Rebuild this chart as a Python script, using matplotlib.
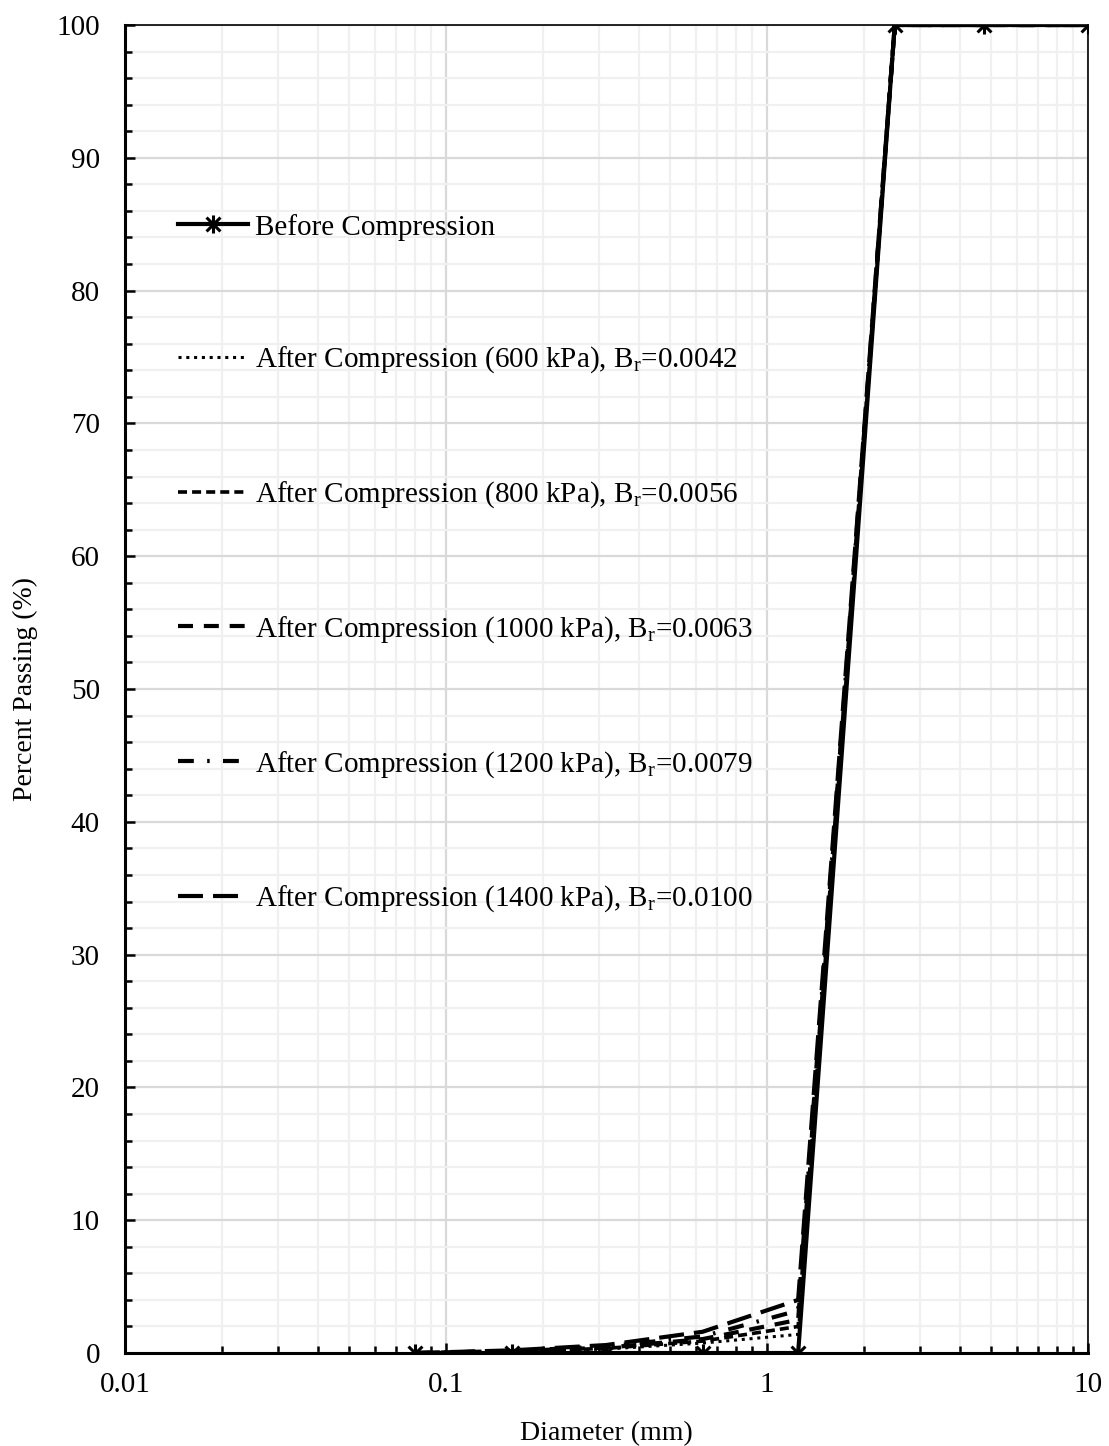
import matplotlib
matplotlib.use("Agg")
import matplotlib.pyplot as plt
from matplotlib.path import Path
from matplotlib.ticker import LogLocator, MultipleLocator, FixedLocator

plt.rcParams["font.family"] = ["Liberation Serif", "DejaVu Serif"]
plt.rcParams["mathtext.fontset"] = "custom"
plt.rcParams["mathtext.rm"] = "Liberation Serif"

# sieve sizes (mm) and percent passing
diameter = [0.08, 0.16, 0.315, 0.63, 1.25, 2.5, 4.75, 10]
before = [0, 0, 0, 0, 0, 100, 100, 100]
after_600 = [0, 0.1, 0.3, 0.75, 1.4, 100, 100, 100]
after_800 = [0, 0.1, 0.35, 0.9, 2.0, 100, 100, 100]
after_1000 = [0, 0.15, 0.4, 1.05, 2.5, 100, 100, 100]
after_1200 = [0, 0.15, 0.5, 1.25, 3.2, 100, 100, 100]
after_1400 = [0, 0.2, 0.6, 1.6, 4.0, 100, 100, 100]

labels = ["Before Compression",
          "After Compression (600 kPa), B$_\\mathrm{r}$=0.0042",
          "After Compression (800 kPa), B$_\\mathrm{r}$=0.0056",
          "After Compression (1000 kPa), B$_\\mathrm{r}$=0.0063",
          "After Compression (1200 kPa), B$_\\mathrm{r}$=0.0079",
          "After Compression (1400 kPa), B$_\\mathrm{r}$=0.0100"]

# excel-style star marker: an x with a vertical stroke
star = Path([(-1, -1), (1, 1), (-1, 1), (1, -1), (0, -1.3), (0, 1.3)],
            [Path.MOVETO, Path.LINETO, Path.MOVETO, Path.LINETO, Path.MOVETO, Path.LINETO])

fig = plt.figure(figsize=(11.09, 14.46), dpi=100)
ax = fig.add_axes([0.1127, 0.0643, 0.8684, 0.9184])

ax.plot(diameter, before, color="black", lw=3, marker=star, ms=13, mew=2.2,
        label=labels[0], zorder=5)
ax.plot(diameter, after_600, color="black", lw=2.2, ls=(0, (1, 1.55)), label=labels[1])
ax.plot(diameter, after_800, color="black", lw=2.6, ls=(0, (2.5, 1.4)), label=labels[2])
ax.plot(diameter, after_1000, color="black", lw=3, ls=(0, (3.6, 2.6)), label=labels[3])
ax.plot(diameter, after_1200, color="black", lw=3, ls=(0, (3.8, 3.2, 0.6, 3.2)), label=labels[4])
ax.plot(diameter, after_1400, color="black", lw=3, ls=(0, (6, 2.4)), label=labels[5])

ax.set_xscale("log")
ax.set_xlim(0.01, 10)
ax.set_ylim(0, 100)
ax.xaxis.set_major_locator(FixedLocator([0.01, 0.1, 1, 10]))
ax.set_xticklabels(["0.01", "0.1", "1", "10"])
ax.xaxis.set_minor_locator(LogLocator(base=10, subs=range(2, 10)))
ax.xaxis.set_minor_formatter(plt.NullFormatter())
ax.yaxis.set_major_locator(MultipleLocator(10))
ax.yaxis.set_minor_locator(MultipleLocator(2))

ax.grid(which="major", color="#d9d9d9", lw=1.6)
ax.grid(which="minor", color="#f0f0f0", lw=1.6)
ax.set_axisbelow(True)

ax.tick_params(which="both", direction="in", labelsize=21, colors="black")
ax.tick_params(which="major", length=7, width=1.8)
ax.tick_params(which="minor", length=5, width=1.8)
ax.tick_params(axis="x", pad=14)
ax.tick_params(axis="y", pad=18)
for side in ("left", "bottom"):
    ax.spines[side].set_linewidth(2.2)
for side in ("right", "top"):
    ax.spines[side].set_linewidth(1.2)

ax.set_xlabel("Diameter (mm)", fontsize=20, labelpad=16)
ax.set_ylabel("Percent Passing (%)", fontsize=20, va="center")
ax.yaxis.set_label_coords(-0.103, 0.5)

ax.legend(loc="upper left", bbox_to_anchor=(0.055, 0.858), frameon=False,
          fontsize=21, handlelength=2.4, handletextpad=0.25, labelspacing=3.57,
          borderaxespad=0, borderpad=0)

fig.savefig("out.png", dpi=100)
